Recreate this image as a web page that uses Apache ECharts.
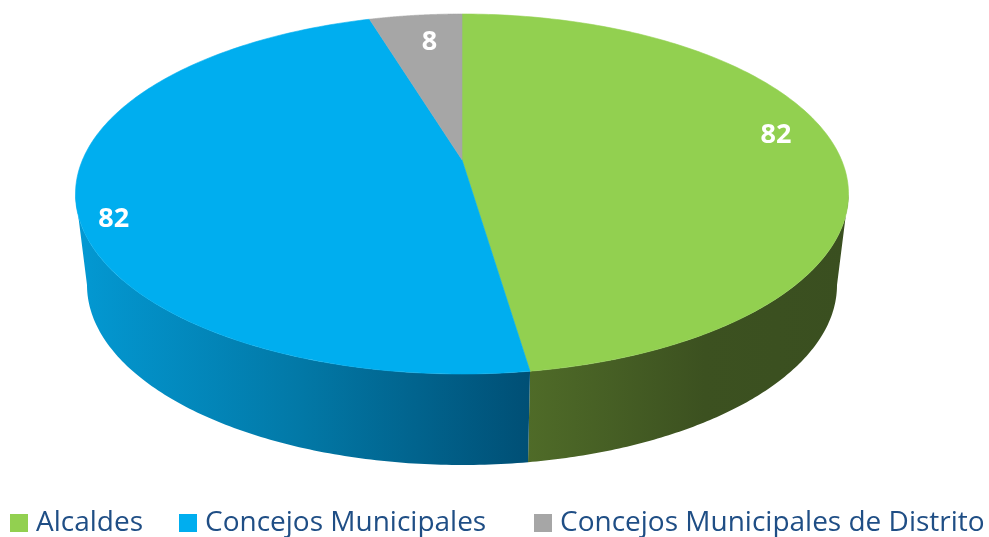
<!DOCTYPE html>
<html>
<head>
<meta charset="utf-8">
<style>
html, body { margin: 0; padding: 0; background: #fff; }
#chart { width: 989px; height: 537px; }
</style>
<script src="https://cdn.jsdelivr.net/npm/echarts@6/dist/echarts.min.js"></script>
</head>
<body>
<div id="chart"></div>
<script>
var categories = ['Alcaldes', 'Concejos Municipales', 'Concejos Municipales de Distrito'];
var values = [82, 82, 8];
var topColors = ['#92d050', '#00aeef', '#a6a6a6'];
var sideColors = [['#4f6b28', '#3c5120', '#3a4f20'], ['#0399d3', '#0278a6', '#004f75'], ['#666666', '#5e5e5e', '#555555']];
var sideStops = [[0, 0.55, 1], [0, 0.5, 1], [0, 0.5, 1]];

var chart = echarts.init(document.getElementById('chart'));

// 饼面椭圆和底面椭圆
var topEllipse = { cx: 462, cy: 194, rx: 386.5, ry: 180 };
var bottomEllipse = { cx: 462, cy: 285, rx: 375, ry: 180 };
// 透视：圆心往后偏移
var tilt = 0.19;

var total = values.reduce(function (a, b) { return a + b; }, 0);

// 单位圆上的点经透视后的位置，theta 从正上方顺时针
function warp(theta, r) {
    var x = r * Math.sin(theta), y = r * Math.cos(theta);
    var d = 1 + tilt * y;
    return [x * Math.sqrt(1 - tilt * tilt) / d, (y + tilt) / d];
}
function onEllipse(e, p) {
    return [e.cx + e.rx * p[0], e.cy - e.ry * p[1]];
}
function warpedAngle(theta) {
    var p = warp(theta, 1);
    var a = Math.atan2(p[0], p[1]);
    return a < -1e-6 ? a + Math.PI * 2 : a;
}

function startAngle(index) {
    var sum = 0;
    for (var i = 0; i < index; i++) sum += values[i];
    return sum / total * Math.PI * 2;
}

// 每块标签的微调
var labelRadius = [0.85, 0.9, 0.8];
var labelNudge = [[-4, -14], [-2, 24], [6, 2]];

function makeRender(index) {
    return function (params, api) {
        var value = api.value(0);
        var t0 = startAngle(index);
        var t1 = t0 + value / total * Math.PI * 2;
        var children = [];

        // 侧面，只画朝前的那半圈
        var a0 = Math.max(warpedAngle(t0), Math.PI / 2);
        var a1 = Math.min(index === 0 ? warpedAngle(t1) : (warpedAngle(t1) || Math.PI * 2), Math.PI * 1.5);
        if (a1 > a0) {
            var upper = [], lower = [];
            for (var k = 0; k <= 120; k++) {
                var a = a0 + (a1 - a0) * k / 120;
                var p = [Math.sin(a), Math.cos(a)];
                upper.push(onEllipse(topEllipse, p));
                lower.unshift(onEllipse(bottomEllipse, p));
            }
            // 梯度从 529 分界处算起，绿色那块是从分界线到右边
            var stops = sideStops[index].map(function (s, n) {
                return { offset: s, color: sideColors[index][n] };
            });
            children.push({
                type: 'polygon',
                z2: 1,
                shape: { points: upper.concat(lower) },
                style: { fill: new echarts.graphic.LinearGradient(0, 0, 1, 0, stops) }
            });
        }

        // 饼面
        var points = [onEllipse(topEllipse, warp(0, 0))];
        for (var j = 0; j <= 180; j++) {
            points.push(onEllipse(topEllipse, warp(t0 + (t1 - t0) * j / 180, 1)));
        }
        children.push({
            type: 'polygon',
            z2: 2,
            shape: { points: points },
            style: { fill: topColors[index], stroke: topColors[index], lineWidth: 0.6 }
        });

        // 数值标签
        var pos = onEllipse(topEllipse, warp((t0 + t1) / 2, labelRadius[index]));
        children.push({
            type: 'text',
            z2: 3,
            x: pos[0] + labelNudge[index][0],
            y: pos[1] + labelNudge[index][1],
            style: {
                text: String(value),
                fill: '#ffffff',
                font: 'bold 27px "Open Sans"',
                align: 'center',
                verticalAlign: 'middle'
            }
        });
        return { type: 'group', children: children };
    };
}

var legendLeft = [5, 174, 529];
var series = categories.map(function (name, i) {
    return {
        name: name,
        type: 'custom',
        coordinateSystem: 'none',
        renderItem: makeRender(i),
        itemStyle: { color: topColors[i] },
        data: [[values[i]]],
        silent: true
    };
});
var legends = categories.map(function (name, i) {
    return {
        data: [name],
        left: legendLeft[i],
        top: 504,
        icon: 'rect',
        itemWidth: 18,
        itemHeight: 18,
        selectedMode: false,
        textStyle: {
            color: '#1f4e85',
            fontFamily: 'Open Sans',
            fontSize: 28,
            padding: [0, 0, 0, 3]
        }
    };
});

chart.setOption({
    animation: false,
    legend: legends,
    series: series
});
</script>
</body>
</html>
